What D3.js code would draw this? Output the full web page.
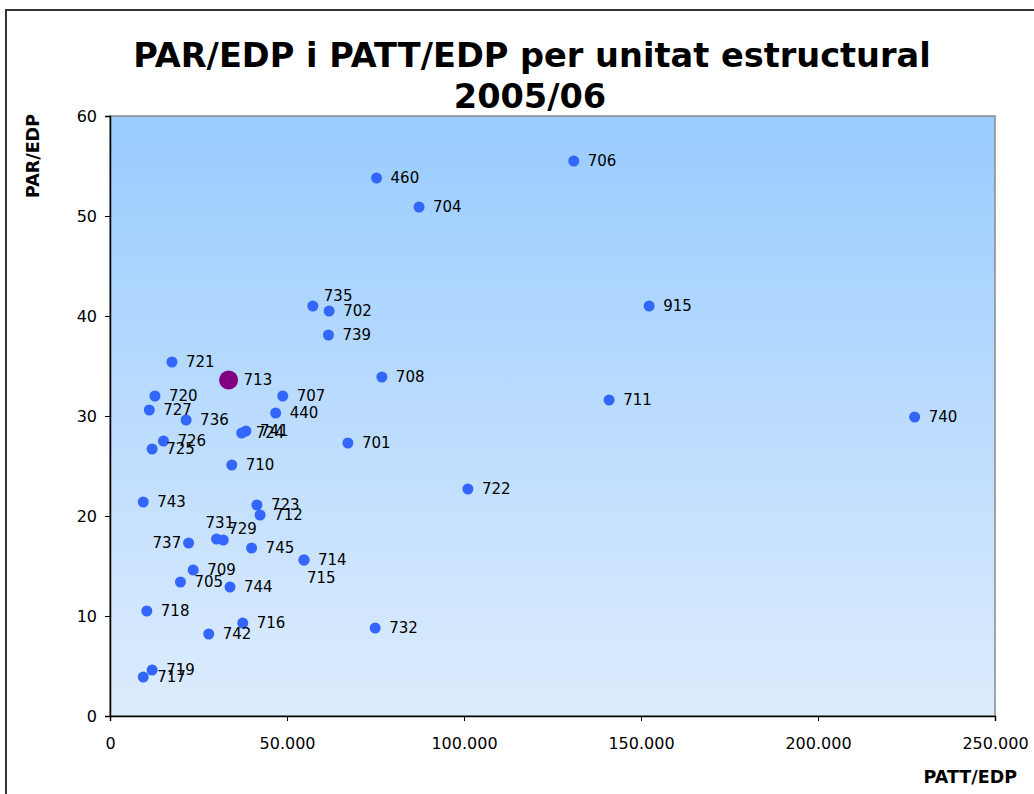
<!DOCTYPE html>
<html>
<head>
<meta charset="utf-8">
<script src="https://cdn.jsdelivr.net/npm/d3@7"></script>
<style>
	body { margin: 0; background: #fff; }
	svg { display: block; font-family: Verdana, 'DejaVu Sans', sans-serif; }
</style>
</head>
<body>
<div id="chart"></div>
<script>
// unitats estructurals, PATT/EDP (x) i PAR/EDP (y)
var units = ['706', '460', '704', '735', '702', '915', '739', '721', '713', '708',
	'720', '707', '711', '727', '440', '740', '736', '724', '741', '726',
	'725', '701', '710', '722', '743', '723', '712', '731', '729', '737',
	'745', '714', '715', '709', '705', '744', '718', '716', '742', '732',
	'719', '717'];
var pattEdp = [131000, 75300, 87300, 57300, 61900, 152300, 61700, 17500, 33500, 76800,
	12700, 48800, 141000, 11100, 46800, 227300, 21500, 37200, 38400, 15100,
	11900, 67200, 34400, 101100, 9400, 41500, 42400, 30100, 32000, 22200,
	40000, 54800, 54800, 23500, 19900, 33900, 10400, 37500, 27900, 74900,
	11900, 9400];
var parEdp = [55.5, 53.8, 50.9, 41.0, 40.5, 41.0, 38.1, 35.4, 33.6, 33.9,
	32.0, 32.0, 31.6, 30.6, 30.3, 29.9, 29.6, 28.3, 28.5, 27.5,
	26.7, 27.3, 25.1, 22.7, 21.4, 21.1, 20.1, 17.7, 17.6, 17.3,
	16.8, 15.6, 15.6, 14.6, 13.4, 12.9, 10.5, 9.3, 8.2, 8.8,
	4.6, 3.9];
var highlighted = '713';
var xTicks = [0, 50000, 100000, 150000, 200000, 250000];
var yTicks = [0, 10, 20, 30, 40, 50, 60];

var width = 1034, height = 794;
var margin = {top: 116, right: 39, bottom: 78, left: 110};
var plotW = width - margin.left - margin.right;
var plotH = height - margin.top - margin.bottom;

// labels moved by hand in the original, as in Excel
var labelNudge = {'735': [-3, -10], '715': [-11, 18], '731': [-25, -16], '729': [-9, -11], '737': [-50, 0]};

var data = units.map(function(u, i) {
	return {unit: u, x: pattEdp[i], y: parEdp[i]};
});

var svg = d3.select('#chart')
	.append('svg')
	.attr('width', width)
	.attr('height', height);

// outer chart border (runs off the page like the screenshot)
svg.append('rect')
	.attr('x', 6)
	.attr('y', 10)
	.attr('width', 1200)
	.attr('height', 1000)
	.attr('fill', '#fff')
	.attr('stroke', '#333')
	.attr('stroke-width', 2);

var grad = svg.append('defs').append('linearGradient')
	.attr('id', 'bg')
	.attr('x1', 0).attr('y1', 0).attr('x2', 0).attr('y2', 1);
grad.append('stop').attr('offset', '0%').attr('stop-color', '#99ccff');
grad.append('stop').attr('offset', '100%').attr('stop-color', '#ddecfd');

var x = d3.scaleLinear().domain([0, 250000]).range([0, plotW]);
var y = d3.scaleLinear().domain([0, 60]).range([plotH, 0]);

var g = svg.append('g')
	.attr('transform', 'translate(' + margin.left + ',' + margin.top + ')');

g.append('rect')
	.attr('width', plotW)
	.attr('height', plotH)
	.attr('fill', 'url(#bg)')
	.attr('stroke', '#888')
	.attr('stroke-width', 1.5);

var fmt = function(d) { return d === 0 ? '0' : d3.format(',')(d).replace(/,/g, '.'); };

var xAxis = g.append('g')
	.attr('transform', 'translate(0,' + plotH + ')')
	.call(d3.axisBottom(x).tickValues(xTicks).tickSize(5).tickFormat(fmt));
var yAxis = g.append('g')
	.call(d3.axisLeft(y).tickValues(yTicks).tickSize(5));

[xAxis, yAxis].forEach(function(a) {
	a.select('.domain').attr('stroke', '#000').attr('stroke-width', 1.5);
	a.selectAll('.tick line').attr('stroke', '#000');
	a.selectAll('.tick text')
		.attr('fill', '#000')
		.style('font-size', '16px')
		.style('font-family', "Verdana, 'DejaVu Sans', sans-serif");
});
xAxis.selectAll('.tick text').attr('dy', null).attr('y', 33);
yAxis.selectAll('.tick text').attr('x', -13).attr('dy', '0.35em');

// points
g.selectAll('.dot')
	.data(data)
	.enter().append('circle')
	.attr('class', 'dot')
	.attr('cx', function(d) { return x(d.x); })
	.attr('cy', function(d) { return y(d.y); })
	.attr('r', function(d) { return d.unit === highlighted ? 9.5 : 5.5; })
	.attr('fill', function(d) { return d.unit === highlighted ? '#800080' : '#3366ff'; });

g.selectAll('.lbl')
	.data(data)
	.enter().append('text')
	.attr('class', 'lbl')
	.attr('x', function(d) {
		var n = labelNudge[d.unit] || [0, 0];
		return x(d.x) + (d.unit === highlighted ? 15 : 14) + n[0];
	})
	.attr('y', function(d) {
		var n = labelNudge[d.unit] || [0, 0];
		return y(d.y) + n[1];
	})
	.attr('dy', '0.35em')
	.style('font-size', '15px')
	.attr('fill', '#000')
	.text(function(d) { return d.unit; });

// titles
svg.append('text')
	.attr('x', 532)
	.attr('y', 67)
	.attr('text-anchor', 'middle')
	.style('font-size', '33.6px')
	.style('font-weight', 'bold')
	.text('PAR/EDP i PATT/EDP per unitat estructural');
svg.append('text')
	.attr('x', 530)
	.attr('y', 108)
	.attr('text-anchor', 'middle')
	.style('font-size', '33.6px')
	.style('font-weight', 'bold')
	.text('2005/06');

svg.append('text')
	.attr('transform', 'translate(39,156) rotate(-90)')
	.attr('text-anchor', 'middle')
	.style('font-size', '17.5px')
	.style('font-weight', 'bold')
	.text('PAR/EDP');

svg.append('text')
	.attr('x', 1017)
	.attr('y', 783)
	.attr('text-anchor', 'end')
	.style('font-size', '17.5px')
	.style('font-weight', 'bold')
	.text('PATT/EDP');
</script>
</body>
</html>
